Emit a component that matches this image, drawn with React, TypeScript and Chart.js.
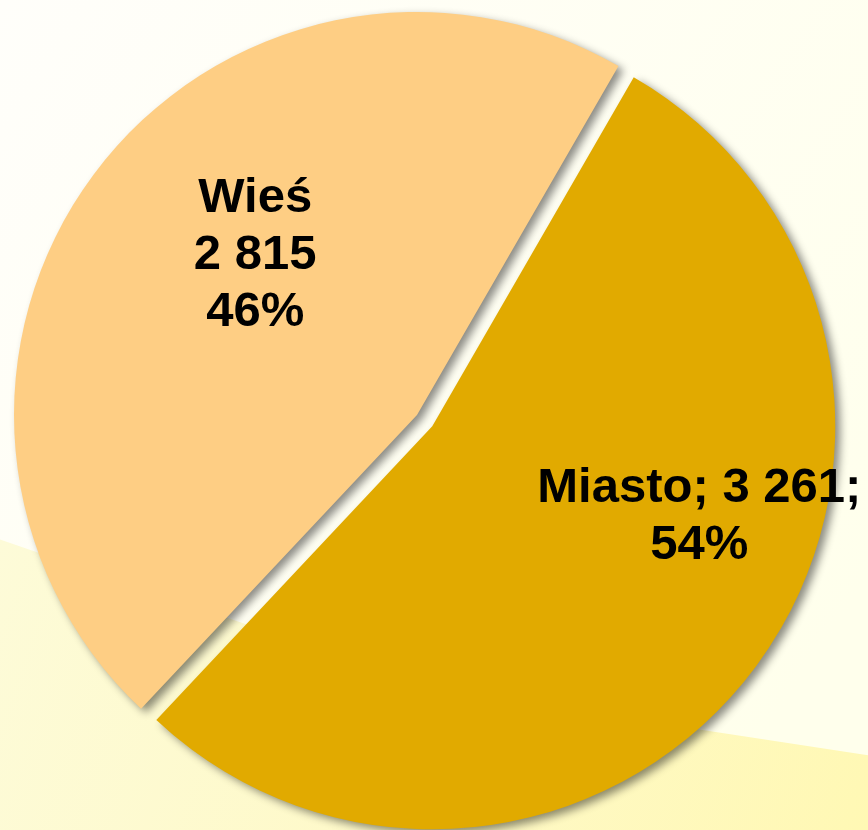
import React, { useEffect, useRef } from "react";
import { Chart, registerables } from "chart.js";

Chart.register(...registerables);

// ---- data ----
const categories = ["Miasto", "Wieś"];
const values = [3261, 2815];
const valueLabels = ["3 261", "2 815"];
const percentLabels = ["54%", "46%"];
const sliceColors = ["#E1AA00", "#FECE84"];

// label text lines per slice (built from data)
const labelLines = [
  [`${categories[0]}; ${valueLabels[0]};`, percentLabels[0]],
  [categories[1], valueLabels[1], percentLabels[1]],
];

// ---- style / placement ----
const explodeDistances = [19, 0];
const labelPlacement = [
  { angleDeg: 18.8, radiusFrac: 0.7 },
  { angleDeg: -135.5, radiusFrac: 0.563 },
];

const backgroundPlugin = {
  id: "bgPaint",
  beforeDraw(chart: any) {
    const { ctx, width, height } = chart;
    ctx.save();
    const g = ctx.createLinearGradient(0, 0, width, height * 0.7);
    g.addColorStop(0, "#FFFEFA");
    g.addColorStop(1, "#FFFFEC");
    ctx.fillStyle = g;
    ctx.fillRect(0, 0, width, height);
    // lower yellow band
    ctx.beginPath();
    ctx.moveTo(0, height * 0.65);
    ctx.lineTo(width * 0.5, height * 0.83);
    ctx.lineTo(width, height * 0.91);
    ctx.lineTo(width, height);
    ctx.lineTo(0, height);
    ctx.closePath();
    const g2 = ctx.createLinearGradient(0, height * 0.65, width, height);
    g2.addColorStop(0, "#FDFBD8");
    g2.addColorStop(0.5, "#FEF9C8");
    g2.addColorStop(1, "#FFF8B4");
    ctx.fillStyle = g2;
    ctx.fill();
    ctx.restore();
  },
};

const explodePlugin = {
  id: "explodeShadow",
  beforeDatasetDraw(chart: any, args: any) {
    const ctx = chart.ctx;
    const meta = args.meta;
    meta.data.forEach((arc: any, i: number) => {
      const d = explodeDistances[i] || 0;
      const mid = (arc.startAngle + arc.endAngle) / 2;
      ctx.save();
      ctx.shadowColor = "rgba(0,0,0,0.45)";
      ctx.shadowBlur = 8;
      ctx.shadowOffsetX = 5;
      ctx.shadowOffsetY = 4;
      ctx.translate(Math.cos(mid) * d, Math.sin(mid) * d);
      arc.draw(ctx, chart.chartArea);
      ctx.restore();
    });
    return false;
  },
};

const labelPlugin = {
  id: "sliceLabels",
  afterDatasetsDraw(chart: any) {
    const ctx = chart.ctx;
    const meta = chart.getDatasetMeta(0);
    ctx.save();
    ctx.fillStyle = "#000000";
    ctx.font = "bold 49px 'Liberation Sans', Arial, sans-serif";
    ctx.textAlign = "center";
    ctx.textBaseline = "middle";
    const lineH = 57;
    meta.data.forEach((arc: any, i: number) => {
      const d = explodeDistances[i] || 0;
      const mid = (arc.startAngle + arc.endAngle) / 2;
      const cx = arc.x + Math.cos(mid) * d;
      const cy = arc.y + Math.sin(mid) * d;
      const p = labelPlacement[i];
      const a = (p.angleDeg * Math.PI) / 180;
      const r = arc.outerRadius * p.radiusFrac;
      const lx = cx + Math.cos(a) * r;
      const ly = cy + Math.sin(a) * r;
      const lines = labelLines[i];
      const top = ly - ((lines.length - 1) * lineH) / 2;
      lines.forEach((t, k) => ctx.fillText(t, lx, top + k * lineH));
    });
    ctx.restore();
  },
};

export default function App() {
  const ref = useRef<HTMLCanvasElement | null>(null);
  useEffect(() => {
    document.body.style.margin = "0";
    const chart = new Chart(ref.current as HTMLCanvasElement, {
      type: "pie",
      data: {
        labels: categories,
        datasets: [
          {
            data: values,
            backgroundColor: sliceColors,
            borderWidth: 0,
          },
        ],
      },
      options: {
        animation: false,
        responsive: false,
        rotation: 30,
        events: [],
        layout: { padding: { left: 14, right: 48, top: 12, bottom: 12 } },
        plugins: {
          legend: { display: false },
          tooltip: { enabled: false },
        },
      },
      plugins: [backgroundPlugin, explodePlugin, labelPlugin],
    });
    return () => chart.destroy();
  }, []);
  return (
    <div style={{ position: "absolute", left: 0, top: 0, width: 868, height: 830 }}>
      <canvas ref={ref} width={868} height={830} style={{ width: 868, height: 830, display: "block" }} />
    </div>
  );
}
